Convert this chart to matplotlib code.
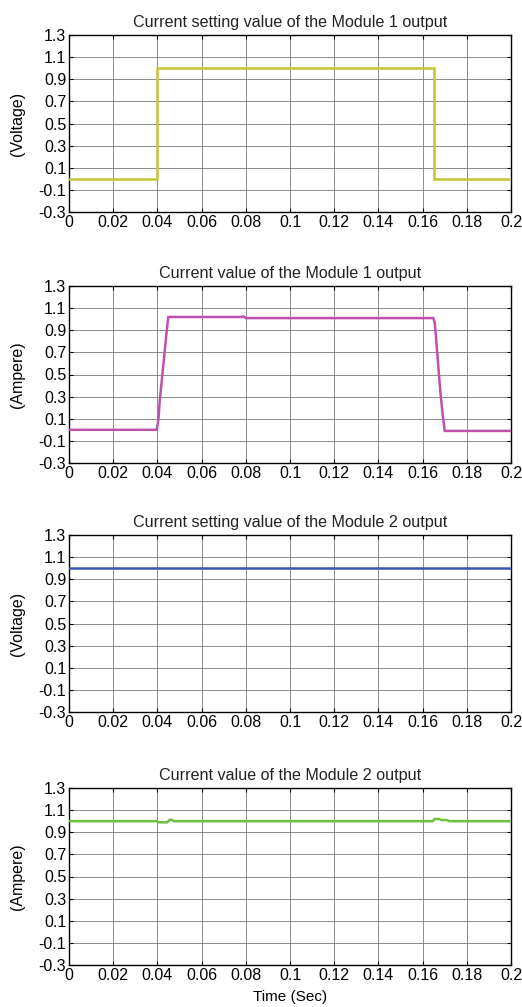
import matplotlib
matplotlib.use("Agg")
import matplotlib.pyplot as plt
import numpy as np

plt.rcParams['font.family'] = ['Liberation Sans', 'DejaVu Sans']

titles = ["Current setting value of the Module 1 output",
          "Current value of the Module 1 output",
          "Current setting value of the Module 2 output",
          "Current value of the Module 2 output"]
ylabels = ["(Voltage)", "(Ampere)", "(Voltage)", "(Ampere)"]
xlabel = "Time (Sec)"

t1 = [0, 0.04, 0.04, 0.165, 0.165, 0.2]
v1 = [0, 0, 1.0, 1.0, 0, 0]

t2 = [0, 0.0397, 0.0405, 0.041, 0.042, 0.043, 0.044, 0.0449, 0.078, 0.079, 0.080, 0.081,
      0.1648, 0.1655, 0.166, 0.167, 0.168, 0.169, 0.170, 0.2]
v2 = [0, 0, 0.1, 0.25, 0.45, 0.65, 0.85, 1.02, 1.02, 1.025, 1.01, 1.01,
      1.01, 0.97, 0.85, 0.6, 0.35, 0.15, -0.01, -0.01]

t3 = [0, 0.2]
v3 = [1.0, 1.0]

t4 = [0, 0.0398, 0.0405, 0.0445, 0.0455, 0.0465, 0.0475, 0.1645, 0.1655, 0.1675, 0.1685, 0.171, 0.172, 0.2]
v4 = [1.0, 1.0, 0.99, 0.99, 1.012, 1.012, 1.0, 1.0, 1.02, 1.02, 1.01, 1.01, 1.0, 1.0]

colors = ["#C4C434", "#C050B0", "#3A56B4", "#6CC040"]

xticks = [0, 0.02, 0.04, 0.06, 0.08, 0.1, 0.12, 0.14, 0.16, 0.18, 0.2]
xticklabels = ["0", "0.02", "0.04", "0.06", "0.08", "0.1", "0.12", "0.14", "0.16", "0.18", "0.2"]
yticks = [-0.3, -0.1, 0.1, 0.3, 0.5, 0.7, 0.9, 1.1, 1.3]
yticklabels = ["-0.3", "-0.1", "0.1", "0.3", "0.5", "0.7", "0.9", "1.1", "1.3"]

series = [(t1, v1), (t2, v2), (t3, v3), (t4, v4)]

fig = plt.figure(figsize=(5.22, 10.07), dpi=100)
W, H = 522, 1007
left, right = 69, 511
tops = [35, 286, 535, 788]
h = 177

for i, (t, v) in enumerate(series):
    top = tops[i]
    ax = fig.add_axes([left / W, 1 - (top + h) / H, (right - left) / W, h / H])
    ax.plot(t, v, color=colors[i], lw=1.8, solid_joinstyle='miter', zorder=3)
    ax.set_xlim(0, 0.2)
    ax.set_ylim(-0.3, 1.3)
    ax.set_xticks(xticks)
    ax.set_xticklabels(xticklabels)
    ax.set_yticks(yticks)
    ax.set_yticklabels(yticklabels)
    ax.grid(True, color='#7a7a7a', lw=0.6, ls='-')
    ax.tick_params(direction='in', top=True, right=True, length=3, width=0.8,
                   labelsize=11.5, pad=2, colors='black')
    for sp in ax.spines.values():
        sp.set_linewidth(1.0)
    ax.set_title(titles[i], fontsize=11.6, pad=6, color='#222222')
    ax.set_ylabel(ylabels[i], fontsize=11.5, labelpad=10)
    if i == 3:
        ax.set_xlabel(xlabel, fontsize=11, labelpad=5)

fig.savefig("out.png", dpi=100)
